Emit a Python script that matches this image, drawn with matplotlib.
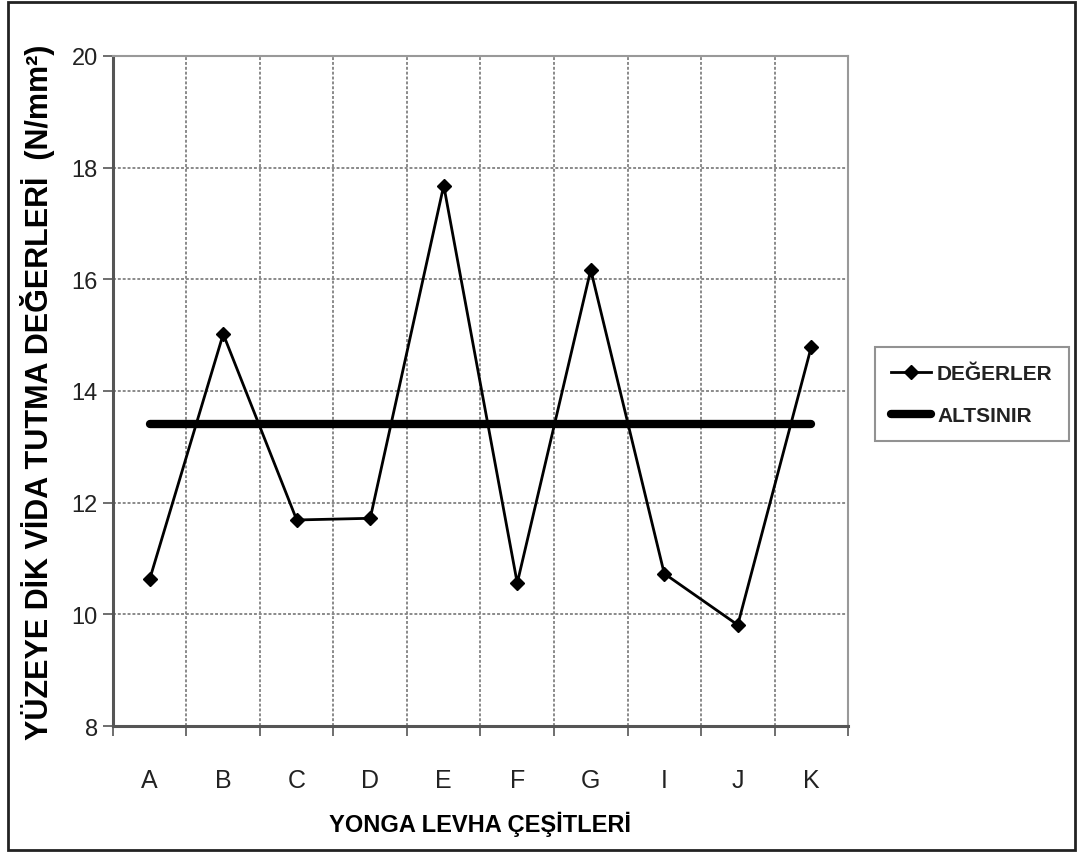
import matplotlib.pyplot as plt
from matplotlib.patches import Rectangle

plt.rcParams['font.family'] = ['Liberation Sans', 'DejaVu Sans']

cesitler = ['A', 'B', 'C', 'D', 'E', 'F', 'G', 'I', 'J', 'K']
degerler = [10.63, 15.02, 11.69, 11.72, 17.68, 10.56, 16.17, 10.73, 9.81, 14.79]
alt_sinir = 13.4

fig = plt.figure(figsize=(10.8, 8.54), dpi=100)
ax = fig.add_axes([0.1046, 0.1487, 0.6806, 0.7846])

x = list(range(len(cesitler)))
ax.plot(x, degerler, color='black', lw=2, marker='D', markersize=7, label='DEĞERLER', zorder=4)
ax.plot(x, [alt_sinir] * len(x), color='black', lw=6, solid_capstyle='round', label='ALTSINIR', zorder=3)

ax.set_xlim(-0.5, len(cesitler) - 0.5)
ax.set_ylim(8, 20)
ax.set_yticks(range(8, 21, 2))

# grid on category boundaries, labels in the middle
ax.set_xticks([i - 0.5 for i in range(len(cesitler) + 1)])
ax.set_xticklabels([])
ax.set_xticks(x, minor=True)
ax.set_xticklabels(cesitler, minor=True, fontsize=18)
ax.tick_params(axis='x', which='major', direction='out', length=7, width=1.2, color='#555555')
ax.tick_params(axis='x', which='minor', length=0, pad=30, labelcolor='#222222')
ax.tick_params(axis='y', direction='out', length=7, width=1.2, color='#555555', pad=4,
               labelsize=17, labelcolor='#222222')

ax.grid(True, which='major', color='#8a8a8a', linestyle=(0, (1.5, 1)), lw=1.4)
ax.set_axisbelow(True)
for side in ['left', 'bottom']:
    ax.spines[side].set_color('#555555')
    ax.spines[side].set_linewidth(2.2)
for side in ['top', 'right']:
    ax.spines[side].set_color('#999999')
    ax.spines[side].set_linewidth(1.5)

ax.set_xlabel('YONGA LEVHA ÇEŞİTLERİ', fontsize=17, fontweight='bold', labelpad=14)
ax.set_ylabel('YÜZEYE DİK VİDA TUTMA DEĞERLERİ  (N/mm²)', fontsize=22, fontweight='bold',
              labelpad=12)

leg = ax.legend(loc='center left', bbox_to_anchor=(1.022, 0.495), frameon=True, fancybox=False,
                edgecolor='#777777', fontsize=15, handlelength=1.9, handletextpad=0.3,
                borderpad=0.8, labelspacing=1.1)
leg.get_frame().set_linewidth(1.5)
for t in leg.get_texts():
    t.set_fontweight('bold')
    t.set_color('#222222')

fig.patches.append(Rectangle((0.007, 0.003), 0.988, 0.994, transform=fig.transFigure,
                             fill=False, edgecolor='#222222', lw=2))

fig.savefig('out.png', dpi=100)
